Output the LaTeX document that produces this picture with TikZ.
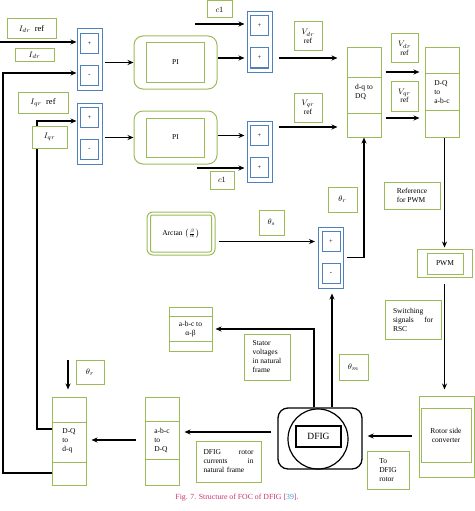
\documentclass[tikz,border=0pt]{standalone}
\usepackage{amsmath}
\usepackage{fontspec}
\setmainfont{Liberation Serif}
\usepackage{xcolor}
\usetikzlibrary{arrows.meta}
\definecolor{boxgreen}{HTML}{9BBB59}
\definecolor{boxblue}{HTML}{4F81BD}
\definecolor{capred}{HTML}{C8326E}
\definecolor{capblue}{HTML}{3E9BD6}

\begin{document}
\begin{tikzpicture}[x=1pt, y=-1pt, >={Stealth[length=6pt,width=5pt]},
  gbox/.style={draw=boxgreen, line width=1pt, fill=white, inner sep=0pt,
    font=\fontsize{7.5}{9}\selectfont},
  tbox/.style={gbox, align=left},
  mbox/.style={gbox, align=center, font=\fontsize{8.5}{9.5}\selectfont},
  sumbox/.style={draw=boxblue, line width=1pt, minimum width=25pt,
    minimum height=61pt, inner sep=0pt},
  sumin/.style={draw=boxblue, line width=1pt, minimum width=18pt,
    minimum height=20pt, inner sep=0pt, font=\fontsize{6.5}{6.5}\selectfont},
  link/.style={->, line width=1.2pt},
]
\useasboundingbox (0,0) rectangle (474,511);

% summing junctions
\foreach \n/\x/\y/\ta/\tb in {sumD/89.5/59.5/+/-, sumQ/89.5/133.5/+/-,
    sumD2/259.5/42/+/+, sumQ2/259.5/151.5/+/+, sumT/331/257.5/+/-}{
  \node[sumbox] (\n) at (\x,\y) {};
  \node[sumin] (\n-a) at (\x,\y-16) {\ta};
  \node[sumin] (\n-b) at (\x,\y+16) {\tb};
}

% PI controllers
\foreach \n/\y in {piD/62.5, piQ/137.5}{
  \node[draw=boxgreen, line width=1pt, rounded corners=9pt,
    minimum width=83pt, minimum height=53pt] (\n) at (175.5,\y) {};
  \node[gbox, minimum width=58pt, minimum height=39pt] (\n-in) at (175.5,\y) {PI};
}

% transformation blocks
\node[tbox, minimum width=34pt, minimum height=89pt] (dqDQ) at (364,92.5) {d-q to\\DQ};
\node[tbox, minimum width=34pt, minimum height=89pt] (DQabc) at (442,92.5) {D-Q\\to\\a-b-c};
\node[gbox, align=center, minimum width=43pt, minimum height=44pt] (abcab) at (190.5,329) {a-b-c to\\α-β};
\node[tbox, minimum width=34pt, minimum height=88pt] (abcDQ) at (162,441) {a-b-c\\to\\D-Q};
\node[tbox, minimum width=34pt, minimum height=88pt] (DQdq) at (69,441) {D-Q\\to\\d-q};
\foreach \n/\ya/\yb in {dqDQ/77/113, DQabc/73/110, abcab/316/341,
    abcDQ/421/459, DQdq/422/462}{
  \draw[boxgreen, line width=1pt] (\n.west |- 0,\ya) -- (\n.east |- 0,\ya)
                                  (\n.west |- 0,\yb) -- (\n.east |- 0,\yb);
}

% angle, PWM, converter
\node[draw=boxgreen, line width=1pt, rounded corners=6pt,
  minimum width=68pt, minimum height=43pt] (arctan) at (181,233.5) {};
\node[gbox, rounded corners=2pt, minimum width=61pt, minimum height=37pt]
  (arctan-in) at (181,233.5) {Arctan $\left(\frac{\beta}{\alpha}\right)$};
\node[draw=boxgreen, line width=1pt, minimum width=55pt, minimum height=28pt] (pwm) at (444.5,263) {};
\node[gbox, minimum width=36pt, minimum height=21pt] (pwm-in) at (445,263.5) {PWM};
\node[draw=boxgreen, line width=1pt, minimum width=55pt, minimum height=81pt] (rsc) at (446.5,436.5) {};
\node[gbox, align=center, minimum width=50pt, minimum height=54pt] (rsc-in) at (446,435) {Rotor side\\converter};

% generator
\node[draw, line width=1.3pt, rounded corners=10pt, minimum width=84pt,
  minimum height=61pt] (dfig) at (320,438.5) {};
\node[draw, line width=1.2pt, circle, inner sep=0pt, minimum size=60pt] (dfig-c) at (318,439) {};
\node[draw, line width=1.5pt, minimum width=45pt, minimum height=21pt,
  font=\fontsize{9.5}{10}\selectfont] (dfig-in) at (318.5,436.5) {DFIG};

% free ends
\coordinate (idrin) at (0,42);
\coordinate (c1ain) at (195,24);
\coordinate (c1bin) at (197,168);
\coordinate (thrin) at (68,360);
\coordinate (tapab) at ([xshift=-6pt]dfig.north);
\coordinate (tapth) at ([xshift=12pt]dfig.north);

% connectors
\draw[link] (idrin) -- (sumD.west |- idrin);
\draw[link, line width=1.8pt] (DQdq.west |- 0,473) -- (3,473) |- (sumD.west |- 0,73);
\draw[link] (DQdq.west |- 0,429) -- (37,429) |- (sumQ.west |- 0,121);
\draw[link, shorten <=2pt] (sumD.east |- piD) -- (piD.west);
\draw[link, shorten <=2pt] (sumQ.east |- piQ) -- (piQ.west);
\draw[link, shorten >=2pt] (piD.east |- sumD2-b) -- (sumD2.west |- sumD2-b);
\draw[link, shorten >=2pt] (piQ.east |- sumQ2-a) -- (sumQ2.west |- sumQ2-a);
\draw[link, shorten >=2pt] (c1ain) -- (sumD2.west |- c1ain);
\draw[link, shorten >=2pt] (c1bin) -- (sumQ2.west |- c1bin);
\draw[link, shorten <=6pt, shorten >=9pt] (sumD2.east |- sumD2-b) -- (dqDQ.west |- sumD2-b);
\draw[link, shorten <=6pt, shorten >=9pt] (sumQ2.east |- 0,127) -- (dqDQ.west |- 0,127);
\draw[link, shorten <=4pt, shorten >=5pt] (dqDQ.east |- 0,72) -- (DQabc.west |- 0,72);
\draw[link, shorten <=4pt, shorten >=5pt] (dqDQ.east |- 0,118) -- (DQabc.west |- 0,118);
\draw[link, shorten >=1pt] (pwm |- DQabc.south) -- (pwm.north);
\draw[link, shorten <=6pt, shorten >=6pt] (pwm.south) -- (pwm |- rsc.north);
\draw[link, shorten <=7pt, shorten >=5pt] (rsc.west |- 0,436) -- (dfig.east |- 0,436);
\draw[link, shorten <=6pt, shorten >=5pt] (dfig.west |- 0,432) -- (abcDQ.east |- 0,432);
\draw[link, shorten <=9pt, shorten >=5pt] (abcDQ.west |- 0,440) -- (DQdq.east |- 0,440);
\draw[link, shorten >=7pt] (thrin) -- (thrin |- DQdq.north);
\draw[link, shorten >=3pt] (tapab) |- (abcab.east);
\draw[link, shorten >=5pt] (tapth) -- (tapth |- sumT.south);
\draw[link, shorten <=3pt, shorten >=3pt] (arctan.east |- sumT-a) -- (sumT.west |- sumT-a);
\draw[link, shorten <=3pt] (sumT.east) -| (dqDQ.south);

% signal labels
\node[mbox, minimum width=49pt, minimum height=20pt] (idref) at (31.5,29) {$I_{dr}$~ ref};
\node[mbox, minimum width=39pt, minimum height=13pt] (idr) at (34.5,55) {$I_{dr}$};
\node[mbox, minimum width=50pt, minimum height=21pt] (iqref) at (43,102.5) {$I_{qr}$~ ref};
\node[mbox, minimum width=35pt, minimum height=22pt] (iqr) at (49.5,137) {$I_{qr}$};
\node[mbox, minimum width=25pt, minimum height=17pt] (c1a) at (219.5,9.5) {$c1$};
\node[mbox, minimum width=24pt, minimum height=18pt] (c1b) at (222,180) {$c1$};
\node[mbox, minimum width=28pt, minimum height=29pt] (vdr1) at (308,36.5) {$V_{dr}$\\[-1pt]{\fontsize{7.5}{8}\selectfont ref}};
\node[mbox, minimum width=28pt, minimum height=29pt] (vqr1) at (308,107.5) {$V_{qr}$\\[-1pt]{\fontsize{7.5}{8}\selectfont ref}};
\node[mbox, minimum width=27pt, minimum height=29pt] (vdr2) at (404.5,48.5) {$V_{dr}$\\[-1pt]{\fontsize{7.5}{8}\selectfont ref}};
\node[mbox, minimum width=27pt, minimum height=30pt] (vqr2) at (404.5,96) {$V_{qr}$\\[-1pt]{\fontsize{7.5}{8}\selectfont ref}};
\node[mbox, minimum width=29pt, minimum height=25pt] (thr1) at (342.5,199.5) {$\theta_r$};
\node[mbox, minimum width=25pt, minimum height=25pt] (ths) at (271.5,222.5) {$\theta_s$};
\node[mbox, minimum width=29pt, minimum height=26pt] (thm) at (353.5,367) {$\theta_m$};
\node[mbox, minimum width=28pt, minimum height=24pt] (thr2) at (90,372) {$\theta_r$};
\node[tbox, minimum width=56pt, minimum height=27pt] (refpwm) at (412,195.5) {Reference\\for PWM};
\node[gbox, text width=40pt, align=left, minimum width=56pt, minimum height=39pt]
  (switch) at (413,319.5) {Switching\\signals \hfill for\\RSC};
\node[tbox, minimum width=46pt, minimum height=46pt] (stator) at (267,357) {Stator\\voltages\\in natural\\frame};
\node[gbox, text width=50pt, align=left, minimum width=65pt, minimum height=41pt]
  (rotcur) at (228.5,461.5) {DFIG \hfill rotor\\currents \hfill in\\natural frame};
\node[tbox, minimum width=42pt, minimum height=38pt] (todfig) at (388,470) {To\\DFIG\\rotor};

\node[font=\fontsize{7.8}{9}\selectfont, text=capred] (caption) at (237,498)
  {Fig. 7. Structure of FOC of DFIG [\textcolor{capblue}{39}].};
\end{tikzpicture}
\end{document}
